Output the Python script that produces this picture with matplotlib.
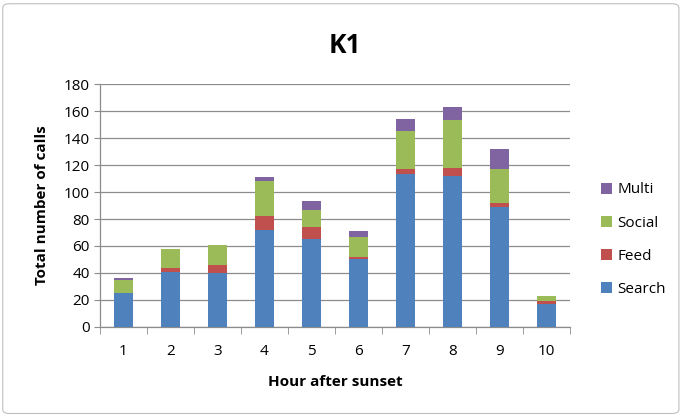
import matplotlib
matplotlib.use("Agg")
import matplotlib.pyplot as plt
from matplotlib.patches import FancyBboxPatch
import numpy as np

hours = ["1", "2", "3", "4", "5", "6", "7", "8", "9", "10"]
search = [25, 41, 40, 72, 65, 50, 113, 112, 89, 17]
feed = [0, 3, 6, 10, 9, 2, 4, 6, 3, 2]
social = [10, 14, 15, 26, 13, 15, 28, 35, 25, 4]
multi = [1, 0, 0, 3, 6, 4, 9, 10, 15, 0]

series = [("Search", search, "#4F81BD"),
          ("Feed", feed, "#C0504D"),
          ("Social", social, "#9BBB59"),
          ("Multi", multi, "#8064A2")]

plt.rcParams["font.family"] = ["Open Sans", "DejaVu Sans"]

fig = plt.figure(figsize=(6.83, 4.16), dpi=100)
# chart frame
fig.patches.append(FancyBboxPatch((0.004, 0.006), 0.99, 0.985,
                                  boxstyle="round,pad=0,rounding_size=0.01",
                                  transform=fig.transFigure, fill=False,
                                  edgecolor="#BFBFBF", linewidth=0.8))

ax = fig.add_axes([0.146, 0.214, 0.689, 0.584])
x = np.arange(len(hours))
bottom = np.zeros(len(hours))
handles = []
for name, vals, color in series:
    b = ax.bar(x, vals, width=0.41, bottom=bottom, color=color, label=name,
               zorder=3)
    handles.append(b)
    bottom += np.array(vals)

ax.set_xlim(-0.5, len(hours) - 0.5)
ax.set_ylim(0, 180)
ax.set_yticks(np.arange(0, 181, 20))
ax.yaxis.grid(True, color="#8C8C8C", linewidth=0.9, zorder=0)
ax.set_axisbelow(True)

ax.set_xticks(x)
ax.set_xticklabels(hours)
ax.set_xticks(np.arange(-0.5, len(hours), 1), minor=True)
ax.tick_params(axis="x", which="major", length=0, pad=12, labelsize=11)
ax.tick_params(axis="x", which="minor", length=5, color="#8C8C8C",
               direction="out")
ax.tick_params(axis="y", length=4, color="#8C8C8C", labelsize=11, pad=3)

for s in ["top", "right"]:
    ax.spines[s].set_visible(False)
for s in ["left", "bottom"]:
    ax.spines[s].set_color("#8C8C8C")
    ax.spines[s].set_linewidth(0.9)

ax.set_xlabel("Hour after sunset", fontsize=11, fontweight="bold", labelpad=12)
ax.set_ylabel("Total number of calls", fontsize=11, fontweight="bold",
              labelpad=11)
fig.text(0.505, 0.89, "K1", ha="center", va="center", fontsize=19,
         fontweight="bold")

leg = ax.legend(handles[::-1], [s[0] for s in series][::-1],
                loc="center left", bbox_to_anchor=(1.035, 0.36),
                frameon=False, fontsize=11, handlelength=0.75,
                handleheight=0.75, handletextpad=0.35, labelspacing=1.18)

fig.savefig("out.png", dpi=100)
